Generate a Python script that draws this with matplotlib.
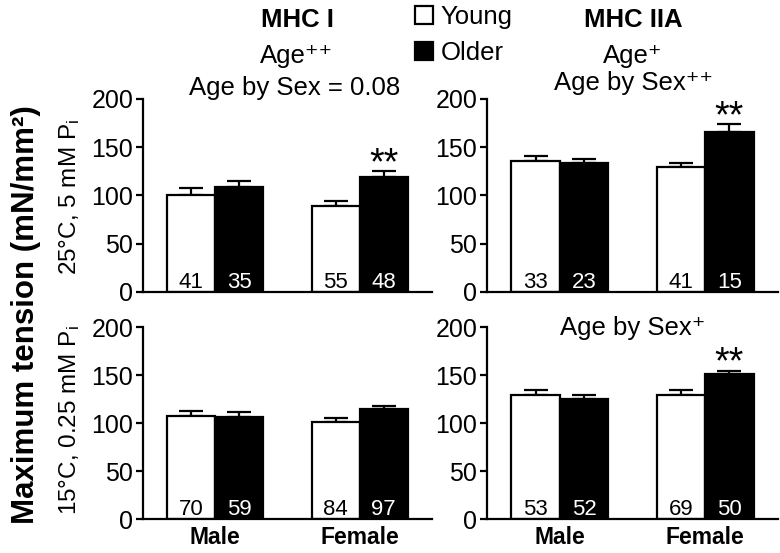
import matplotlib
matplotlib.use('Agg')
import matplotlib.pyplot as plt
from matplotlib.patches import Patch
import numpy as np

plt.rcParams['font.family'] = ['Liberation Sans', 'DejaVu Sans']
plt.rcParams['mathtext.fontset'] = 'custom'
plt.rcParams['mathtext.rm'] = 'Liberation Sans'
plt.rcParams['mathtext.it'] = 'Liberation Sans'
plt.rcParams['mathtext.default'] = 'regular'

# data (mean and upper error bar)
sexes = ['Male', 'Female']

# MHC I, 25C 5 mM Pi
mhc1_25_young = [101, 89]
mhc1_25_young_err = [7, 5.5]
mhc1_25_old = [109, 119]
mhc1_25_old_err = [6, 6]
mhc1_25_n_young = [41, 55]
mhc1_25_n_old = [35, 48]

# MHC IIA, 25C 5 mM Pi
mhc2a_25_young = [136, 130]
mhc2a_25_young_err = [5, 3.5]
mhc2a_25_old = [134, 166]
mhc2a_25_old_err = [4, 8]
mhc2a_25_n_young = [33, 41]
mhc2a_25_n_old = [23, 15]

# MHC I, 15C 0.25 mM Pi
mhc1_15_young = [108, 101]
mhc1_15_young_err = [5, 4.5]
mhc1_15_old = [107, 115]
mhc1_15_old_err = [5, 3.5]
mhc1_15_n_young = [70, 84]
mhc1_15_n_old = [59, 97]

# MHC IIA, 15C 0.25 mM Pi
mhc2a_15_young = [130, 130]
mhc2a_15_young_err = [5, 4.5]
mhc2a_15_old = [125, 151]
mhc2a_15_old_err = [5, 4]
mhc2a_15_n_young = [53, 69]
mhc2a_15_n_old = [52, 50]

# which older bars get "**"
stars_mhc1_25 = [False, True]
stars_mhc2a_25 = [False, True]
stars_mhc1_15 = [False, False]
stars_mhc2a_15 = [False, True]

fig = plt.figure(figsize=(7.8, 5.53), dpi=100)

pos = {
    'tl': [0.1833, 0.472, 0.3705, 0.349],
    'tr': [0.6244, 0.472, 0.373, 0.349],
    'bl': [0.1833, 0.0609, 0.3705, 0.347],
    'br': [0.6244, 0.0609, 0.373, 0.347],
}


def panel(p, young, yerr, old, oerr, n_young, n_old, stars, show_x):
    ax = fig.add_axes(p)
    x = np.array([0, 3])
    w = 1.0
    ax.bar(x - w / 2, young, w, color='white', edgecolor='black', linewidth=1.6, zorder=2)
    ax.bar(x + w / 2, old, w, color='black', edgecolor='black', linewidth=1.6, zorder=2)
    ax.errorbar(x - w / 2, young, yerr=[np.zeros(2), yerr], fmt='none', ecolor='black',
                elinewidth=1.6, capsize=8.5, capthick=1.6, zorder=1)
    ax.errorbar(x + w / 2, old, yerr=[np.zeros(2), oerr], fmt='none', ecolor='black',
                elinewidth=1.6, capsize=8.5, capthick=1.6, zorder=1)
    for i in range(2):
        ax.text(x[i] - w / 2, 4, str(n_young[i]), ha='center', va='baseline',
                fontsize=16, color='black', zorder=3)
        ax.text(x[i] + w / 2, 4, str(n_old[i]), ha='center', va='baseline',
                fontsize=16, color='white', zorder=3)
        if stars[i]:
            ax.text(x[i] + w / 2, old[i] + oerr[i] - 3, '**', ha='center', va='baseline',
                    fontsize=27)
    ax.set_xlim(-1.5, 4.5)
    ax.set_ylim(0, 200)
    ax.set_yticks([0, 50, 100, 150, 200])
    ax.tick_params(axis='y', labelsize=18, width=1.6, length=5, direction='out', pad=2)
    ax.spines['top'].set_visible(False)
    ax.spines['right'].set_visible(False)
    ax.spines['left'].set_linewidth(1.6)
    ax.spines['bottom'].set_linewidth(1.6)
    ax.set_xticks(x)
    if show_x:
        ax.set_xticklabels(sexes, fontsize=16.5, fontweight='bold')
        ax.tick_params(axis='x', length=0, pad=5)
    else:
        ax.set_xticklabels([])
        ax.tick_params(axis='x', length=0)
    return ax


panel(pos['tl'], mhc1_25_young, mhc1_25_young_err, mhc1_25_old, mhc1_25_old_err,
      mhc1_25_n_young, mhc1_25_n_old, stars_mhc1_25, False)
panel(pos['tr'], mhc2a_25_young, mhc2a_25_young_err, mhc2a_25_old, mhc2a_25_old_err,
      mhc2a_25_n_young, mhc2a_25_n_old, stars_mhc2a_25, False)
panel(pos['bl'], mhc1_15_young, mhc1_15_young_err, mhc1_15_old, mhc1_15_old_err,
      mhc1_15_n_young, mhc1_15_n_old, stars_mhc1_15, True)
panel(pos['br'], mhc2a_15_young, mhc2a_15_young_err, mhc2a_15_old, mhc2a_15_old_err,
      mhc2a_15_n_young, mhc2a_15_n_old, stars_mhc2a_15, True)

# titles and statistics
fig.text(297 / 780, 1 - 27 / 553, 'MHC I', ha='center', va='baseline', fontsize=18.5, fontweight='bold')
fig.text(633 / 780, 1 - 27 / 553, 'MHC IIA', ha='center', va='baseline', fontsize=18.5, fontweight='bold')
fig.text(297 / 780, 1 - 63 / 553, 'Age⁺⁺', ha='center', va='baseline', fontsize=18.5)
fig.text(295 / 780, 1 - 95 / 553, 'Age by Sex = 0.08', ha='center', va='baseline', fontsize=18.5)
fig.text(633 / 780, 1 - 63 / 553, 'Age⁺', ha='center', va='baseline', fontsize=18.5)
fig.text(633 / 780, 1 - 90 / 553, 'Age by Sex⁺⁺', ha='center', va='baseline', fontsize=18.5)
fig.text(633 / 780, 1 - 335 / 553, 'Age by Sex⁺', ha='center', va='baseline', fontsize=18.5)

# y labels
fig.text(26 / 780, 1 - 315 / 553, 'Maximum tension (mN/mm²)', rotation=90, ha='center',
         va='center', fontsize=22.5, fontweight='bold')
fig.text(70 / 780, 1 - 197 / 553, '25°C, 5 mM P$_i$', rotation=90, ha='center', va='center', fontsize=17.5)
fig.text(70 / 780, 1 - 420 / 553, '15°C, 0.25 mM P$_i$', rotation=90, ha='center', va='center', fontsize=17.5)

handles = [Patch(facecolor='white', edgecolor='black', linewidth=1.6, label='Young'),
           Patch(facecolor='black', edgecolor='black', linewidth=1.6, label='Older')]
fig.legend(handles=handles, loc='upper left', bbox_to_anchor=(415 / 780, 1 - 5 / 553),
           frameon=False, fontsize=18.5, handlelength=0.7, handleheight=0.7,
           handletextpad=0.3, labelspacing=0.45, borderpad=0, borderaxespad=0)

fig.savefig('out.png', dpi=100)
